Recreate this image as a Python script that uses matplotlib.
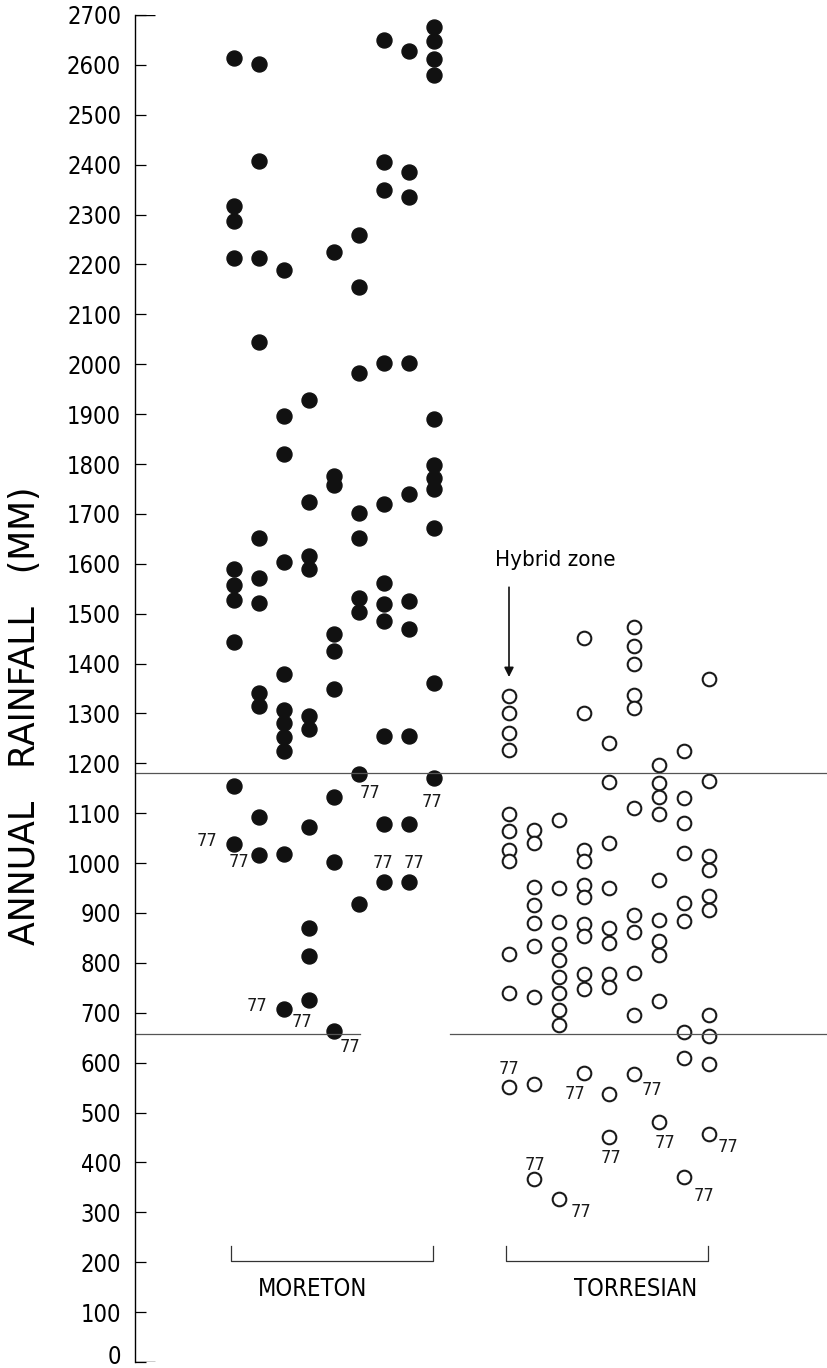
import numpy as np
import matplotlib.pyplot as plt
from matplotlib.transforms import ScaledTranslation

# annual rainfall (mm) of each locality, one list per column of points
moreton = [
    [2613, 2317, 2287, 2213, 1590, 1557, 1527, 1443, 1155, 1038],
    [2602, 2407, 2213, 2044, 1651, 1571, 1521, 1341, 1315, 1092, 1016],
    [2189, 1896, 1820, 1603, 1379, 1307, 1281, 1253, 1225, 1018, 708],
    [1928, 1724, 1616, 1590, 1295, 1269, 1072, 870, 814, 726],
    [2225, 1776, 1758, 1459, 1425, 1349, 1132, 1002, 663],
    [2259, 2155, 1982, 1702, 1651, 1531, 1503, 1178, 918],
    [2650, 2405, 2349, 2003, 1720, 1561, 1519, 1485, 1255, 1078, 962],
    [2628, 2385, 2335, 2003, 1740, 1525, 1469, 1255, 1078, 962],
    [2676, 2648, 2612, 2580, 1890, 1798, 1772, 1750, 1672, 1361, 1171],
]
torresian = [
    [1335, 1301, 1261, 1227, 1098, 1064, 1026, 1004, 818, 740, 551],
    [1066, 1040, 952, 916, 880, 834, 732, 557, 367],
    [1086, 950, 882, 838, 805, 772, 740, 706, 675, 327],
    [1451, 1301, 1026, 1004, 956, 933, 877, 853, 777, 748, 580],
    [1241, 1162, 1040, 951, 870, 840, 778, 751, 538, 451],
    [1473, 1435, 1399, 1337, 1311, 1110, 896, 862, 779, 696, 577],
    [1197, 1160, 1132, 1098, 966, 886, 844, 816, 724, 481],
    [1225, 1130, 1080, 1020, 920, 883, 661, 610, 370],
    [1369, 1165, 1015, 986, 934, 906, 696, 653, 597, 457],
]
moreton_x = [1, 2, 3, 4, 5, 6, 7, 8, 9]
torresian_x = [12, 13, 14, 15, 16, 17, 18, 19, 20]

# points marked "77" (column position, rainfall)
moreton_77 = [(1, 1038), (2, 1016), (3, 708), (4, 726), (5, 663),
              (6, 1178), (7, 962), (8, 962), (9, 1171)]
torresian_77 = [(12, 551), (13, 367), (14, 327), (15, 580), (16, 451),
                (17, 577), (18, 481), (19, 370), (20, 457)]

limits = [1181, 657]
yticks = np.arange(0, 2701, 100)

# label offsets in pixels
off_m = [(-27, 3), (-20, -7), (-27, 3), (-7, -22), (16, -16),
         (11, -19), (-1, 19), (5, 19), (-2, -24)]
off_t = [(0, 18), (1, 14), (22, -13), (-9, -21), (2, -21),
         (18, -16), (6, -21), (20, -19), (19, -13)]

plt.rcParams['font.family'] = ['DejaVu Sans']
plt.rcParams['font.stretch'] = 'condensed'

fig = plt.figure(figsize=(8.28, 13.68), dpi=100)
ax = fig.add_axes([135 / 828, 6 / 1368, 693 / 828, 1347 / 1368])
ax.set_xlim(-2.96, 24.76)
ax.set_ylim(0, 2700)

for x, vals in zip(moreton_x, moreton):
    ax.plot(np.full(len(vals), x), vals, 'o', ms=10.8, color='#111111',
            mec='#111111', clip_on=False)
for x, vals in zip(torresian_x, torresian):
    ax.plot(np.full(len(vals), x), vals, 'o', ms=9.8, mfc='white',
            mec='#1a1a1a', mew=1.5, clip_on=False)

for (x, v), (dx, dy) in zip(moreton_77 + torresian_77, off_m + off_t):
    ax.annotate('77', (x, v), xytext=(dx, dy), textcoords='offset pixels',
                ha='center', va='center', fontsize=13, color='#1a1a1a')

# limit lines
ax.axhline(limits[0], color='#555555', lw=0.9)
ax.plot([-2.96, 6.04], [limits[1]] * 2, color='#555555', lw=0.9)
ax.plot([9.64, 24.76], [limits[1]] * 2, color='#555555', lw=0.9)

# group brackets
for xs, name, tx in [(moreton_x, 'MORETON', 4.16), (torresian_x, 'TORRESIAN', 17.08)]:
    x0, x1 = xs[0] - 0.1, xs[-1] - 0.05
    ax.plot([x0, x0, x1, x1], [232, 202, 202, 232], color='#333333', lw=0.9)
    ax.text(tx, 146, name, ha='center', va='center', fontsize=17)

ax.text(11.44, 1607, 'Hybrid zone', ha='left', va='center', fontsize=16)
ax.annotate('', xy=(12, 1373), xytext=(12, 1553),
            arrowprops=dict(arrowstyle='-|>', color='#111111', lw=1.2,
                            mutation_scale=14, shrinkA=0, shrinkB=0))

for s in ['top', 'right', 'bottom']:
    ax.spines[s].set_visible(False)
ax.spines['left'].set_linewidth(1.0)
ax.set_xticks([])
ax.set_yticks(yticks)
ax.set_yticklabels([str(t) for t in yticks])
ax.tick_params(axis='y', direction='in', length=8, width=0.9, pad=10,
               labelsize=17)
ax.hlines([0, 2700], -2.96, -2.16, color='black', lw=1.0)

# lift the "0" label so it stays inside the figure
lab0 = ax.get_yticklabels()[0]
lab0.set_transform(lab0.get_transform() + ScaledTranslation(0, 8 / 100, fig.dpi_scale_trans))

fig.text(25 / 828, 1 - 716 / 1368, 'ANNUAL   RAINFALL   (MM)', rotation=90,
         ha='center', va='center', fontsize=25, stretch='normal')

fig.savefig('out.png', dpi=100)
